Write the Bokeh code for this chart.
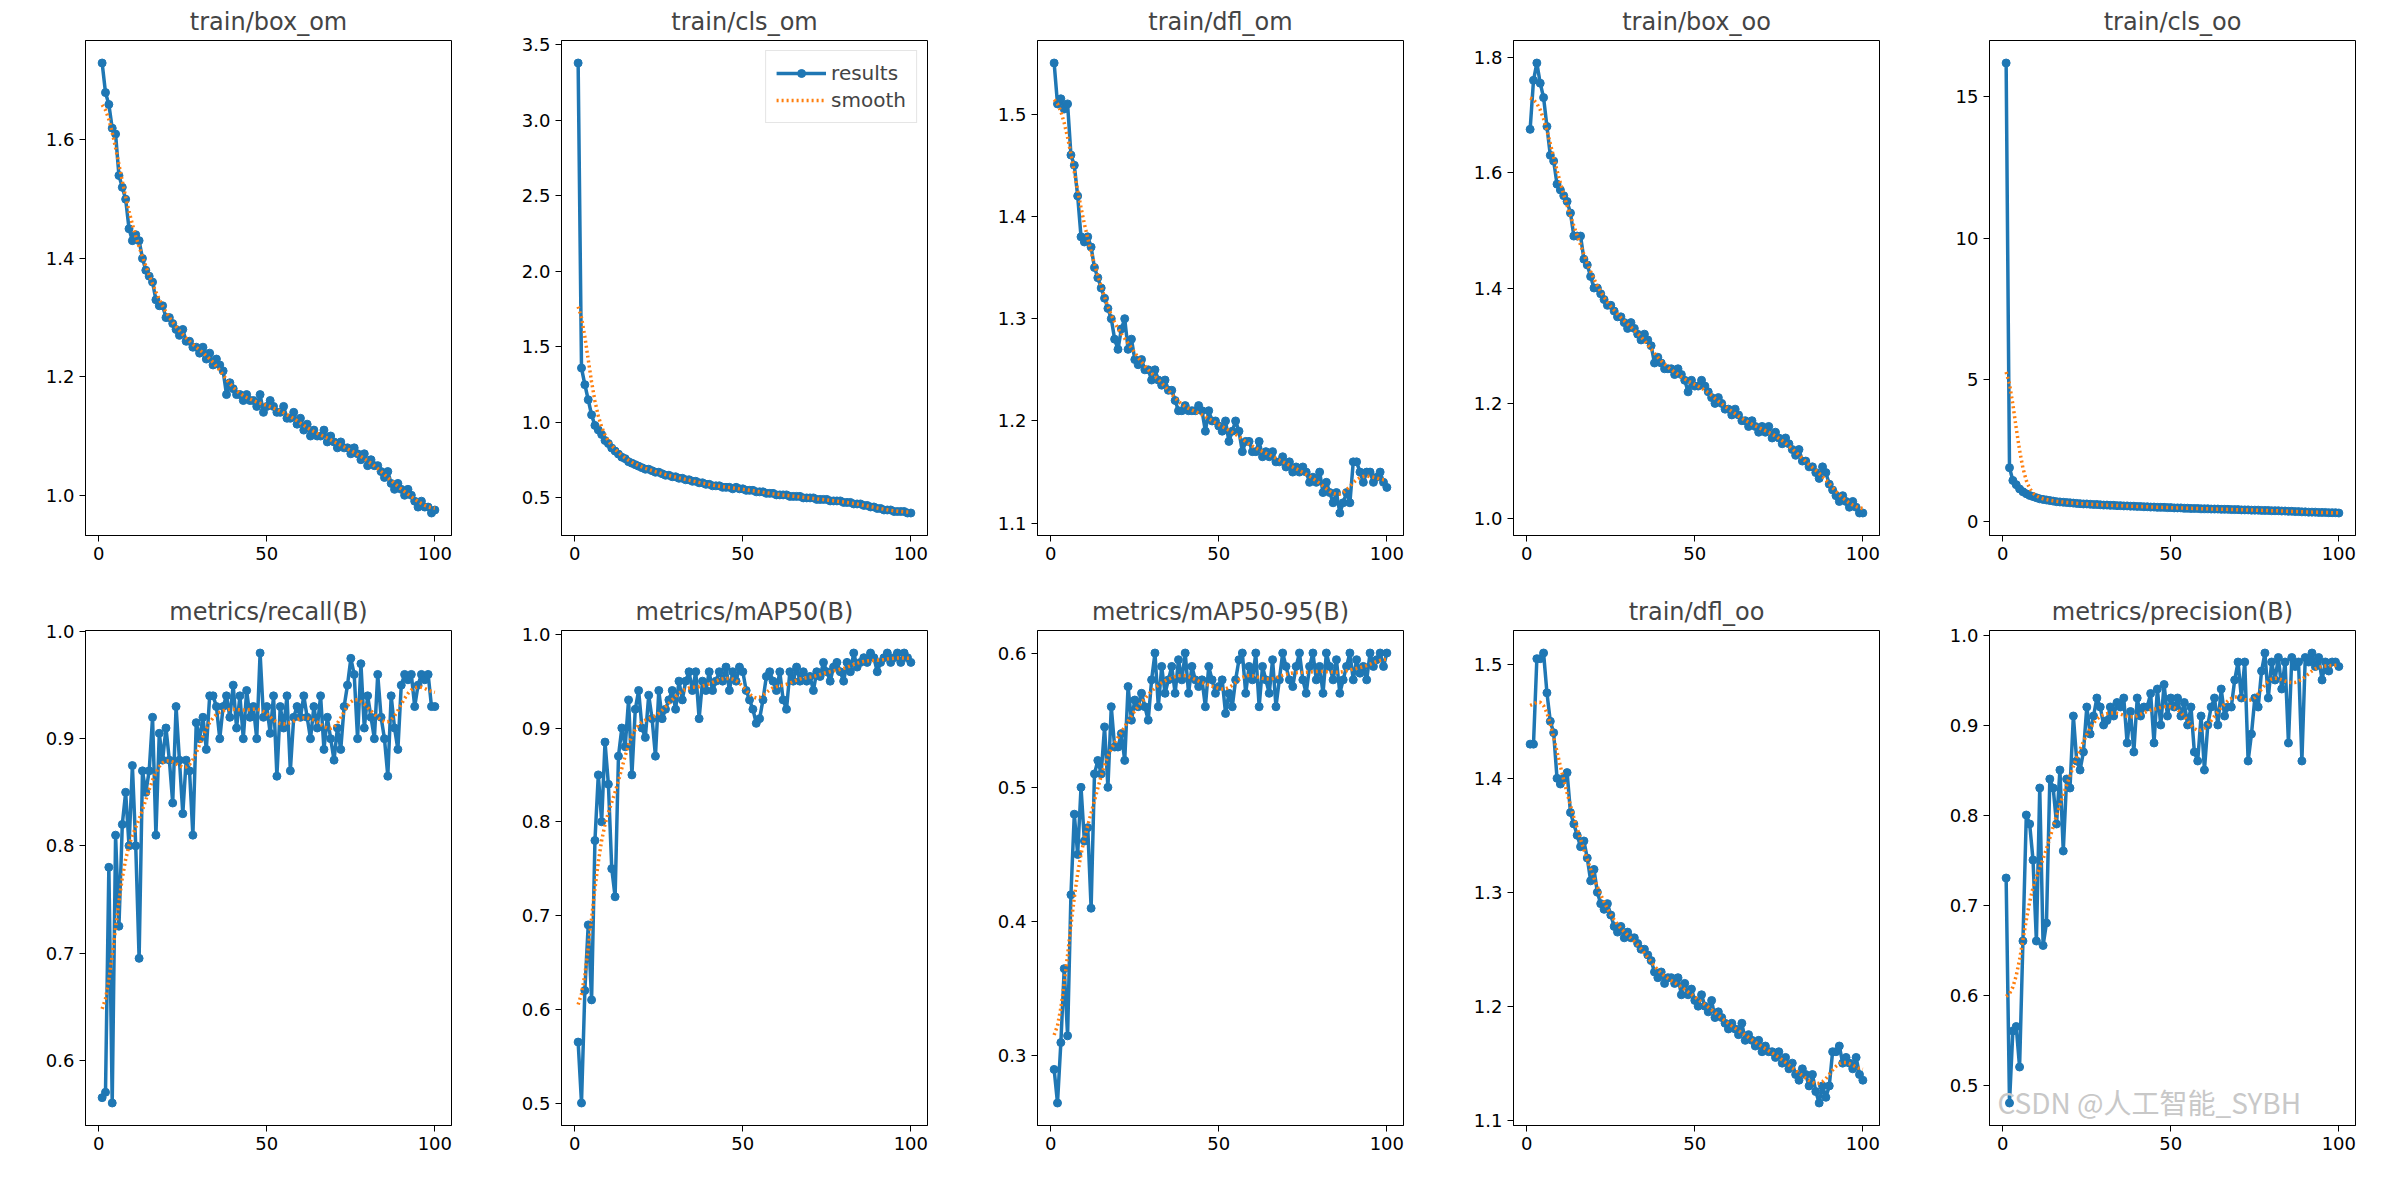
import numpy as np
from bokeh.plotting import figure
from bokeh.layouts import gridplot
from bokeh.models import Range1d, FixedTicker, Legend, LegendItem, Label, PrintfTickFormatter
from bokeh.embed import file_html
from bokeh.resources import INLINE

titles = ["train/box_om", "train/cls_om", "train/dfl_om", "train/box_oo", "train/cls_oo",
          "metrics/recall(B)", "metrics/mAP50(B)", "metrics/mAP50-95(B)", "train/dfl_oo", "metrics/precision(B)"]

box_om = [1.73,1.68,1.66,1.62,1.61,1.54,1.52,1.50,1.45,1.43,1.44,1.43,1.40,1.38,1.37,1.36,1.33,1.32,1.32,1.30,
          1.30,1.29,1.28,1.27,1.28,1.26,1.26,1.25,1.25,1.24,1.25,1.23,1.24,1.22,1.23,1.22,1.21,1.17,1.19,1.18,
          1.17,1.17,1.16,1.17,1.16,1.16,1.15,1.17,1.14,1.15,1.16,1.15,1.14,1.14,1.15,1.13,1.13,1.14,1.12,1.13,
          1.11,1.12,1.10,1.11,1.10,1.10,1.11,1.09,1.10,1.09,1.08,1.09,1.08,1.08,1.07,1.08,1.07,1.06,1.07,1.05,
          1.06,1.05,1.05,1.04,1.03,1.04,1.02,1.01,1.02,1.01,1.00,1.01,1.00,0.99,0.98,0.99,0.98,0.98,0.97,0.975]
cls_om = [3.38,1.36,1.25,1.15,1.05,0.98,0.95,0.92,0.88,0.86,0.83,0.81,0.79,0.77,0.76,0.74,0.73,0.72,0.71,0.70,
          0.69,0.69,0.68,0.67,0.67,0.66,0.65,0.65,0.64,0.64,0.63,0.63,0.62,0.62,0.61,0.61,0.60,0.60,0.59,0.59,
          0.58,0.58,0.58,0.57,0.57,0.57,0.56,0.57,0.56,0.56,0.55,0.55,0.55,0.54,0.54,0.54,0.53,0.53,0.53,0.52,
          0.52,0.52,0.52,0.51,0.51,0.51,0.51,0.50,0.50,0.50,0.50,0.49,0.49,0.49,0.49,0.48,0.48,0.48,0.48,0.47,
          0.47,0.47,0.46,0.46,0.46,0.45,0.45,0.44,0.44,0.43,0.43,0.42,0.42,0.42,0.41,0.41,0.41,0.41,0.40,0.40]
dfl_om = [1.55,1.51,1.515,1.505,1.51,1.46,1.45,1.42,1.38,1.375,1.38,1.37,1.35,1.34,1.33,1.32,1.31,1.30,1.28,1.27,
          1.29,1.30,1.27,1.28,1.26,1.255,1.26,1.25,1.25,1.24,1.25,1.24,1.235,1.24,1.23,1.23,1.22,1.21,1.21,1.215,
          1.21,1.21,1.21,1.215,1.21,1.19,1.21,1.20,1.20,1.195,1.19,1.20,1.18,1.19,1.20,1.19,1.17,1.18,1.18,1.17,
          1.17,1.18,1.165,1.17,1.165,1.17,1.16,1.16,1.165,1.155,1.16,1.15,1.155,1.15,1.155,1.15,1.14,1.145,1.14,1.15,
          1.13,1.14,1.13,1.12,1.13,1.11,1.12,1.13,1.12,1.16,1.16,1.15,1.14,1.15,1.15,1.14,1.145,1.15,1.14,1.135]
box_oo = [1.675,1.76,1.79,1.755,1.73,1.68,1.63,1.62,1.58,1.57,1.56,1.55,1.53,1.49,1.49,1.49,1.45,1.44,1.42,1.40,
          1.40,1.39,1.38,1.37,1.37,1.36,1.35,1.35,1.34,1.33,1.34,1.33,1.32,1.31,1.32,1.31,1.30,1.27,1.28,1.27,
          1.26,1.26,1.26,1.25,1.26,1.25,1.24,1.22,1.24,1.23,1.23,1.24,1.23,1.22,1.21,1.20,1.21,1.20,1.19,1.19,
          1.18,1.19,1.18,1.17,1.17,1.16,1.17,1.16,1.15,1.16,1.15,1.16,1.14,1.15,1.14,1.13,1.14,1.13,1.12,1.11,
          1.12,1.10,1.10,1.09,1.09,1.08,1.07,1.09,1.08,1.06,1.05,1.04,1.03,1.04,1.03,1.02,1.03,1.02,1.01,1.01]
cls_oo = [16.2,1.9,1.45,1.30,1.15,1.05,0.98,0.92,0.88,0.84,0.80,0.78,0.76,0.74,0.72,0.70,0.69,0.68,0.67,0.66,
          0.65,0.64,0.63,0.62,0.62,0.61,0.60,0.60,0.59,0.58,0.58,0.57,0.57,0.56,0.56,0.55,0.55,0.54,0.54,0.53,
          0.53,0.52,0.52,0.51,0.51,0.50,0.50,0.50,0.49,0.49,0.48,0.48,0.48,0.47,0.47,0.46,0.46,0.46,0.45,0.45,
          0.45,0.44,0.44,0.44,0.43,0.43,0.43,0.42,0.42,0.42,0.41,0.41,0.41,0.40,0.40,0.40,0.39,0.39,0.39,0.38,
          0.38,0.38,0.37,0.37,0.36,0.36,0.35,0.35,0.34,0.34,0.33,0.33,0.33,0.32,0.32,0.32,0.31,0.31,0.31,0.30]
recall = [0.565,0.57,0.78,0.56,0.81,0.725,0.82,0.85,0.80,0.875,0.80,0.695,0.87,0.85,0.87,0.92,0.81,0.905,0.88,0.91,
          0.88,0.84,0.93,0.88,0.83,0.88,0.87,0.81,0.915,0.90,0.92,0.89,0.94,0.94,0.93,0.90,0.93,0.94,0.92,0.95,
          0.91,0.94,0.90,0.945,0.92,0.93,0.90,0.98,0.92,0.93,0.905,0.94,0.865,0.93,0.91,0.94,0.87,0.92,0.93,0.92,
          0.94,0.92,0.90,0.93,0.91,0.94,0.89,0.92,0.90,0.88,0.91,0.89,0.93,0.95,0.975,0.96,0.90,0.97,0.91,0.94,
          0.92,0.90,0.96,0.92,0.90,0.865,0.94,0.91,0.89,0.95,0.96,0.955,0.96,0.93,0.95,0.96,0.955,0.96,0.93,0.93]
map50 = [0.565,0.50,0.62,0.69,0.61,0.78,0.85,0.80,0.885,0.84,0.75,0.72,0.87,0.90,0.88,0.93,0.85,0.92,0.94,0.90,
         0.89,0.935,0.91,0.87,0.94,0.91,0.92,0.93,0.94,0.92,0.95,0.93,0.95,0.96,0.94,0.96,0.91,0.95,0.94,0.96,
         0.94,0.95,0.96,0.95,0.965,0.94,0.96,0.95,0.965,0.96,0.94,0.93,0.92,0.905,0.91,0.93,0.955,0.96,0.95,0.94,
         0.96,0.93,0.92,0.96,0.95,0.965,0.95,0.96,0.95,0.955,0.94,0.96,0.955,0.97,0.96,0.95,0.965,0.97,0.96,0.95,
         0.97,0.96,0.98,0.965,0.97,0.975,0.97,0.98,0.975,0.96,0.97,0.975,0.98,0.97,0.975,0.98,0.97,0.98,0.975,0.97]
map5095 = [0.29,0.265,0.31,0.365,0.315,0.42,0.48,0.45,0.50,0.46,0.47,0.41,0.51,0.52,0.51,0.545,0.50,0.56,0.53,0.53,
           0.54,0.52,0.575,0.55,0.565,0.56,0.57,0.56,0.55,0.58,0.60,0.56,0.59,0.57,0.58,0.59,0.57,0.595,0.58,0.60,
           0.57,0.59,0.58,0.575,0.58,0.56,0.59,0.58,0.57,0.575,0.58,0.555,0.57,0.56,0.58,0.595,0.60,0.57,0.59,0.58,
           0.60,0.56,0.59,0.58,0.57,0.595,0.56,0.58,0.60,0.59,0.58,0.575,0.59,0.60,0.58,0.57,0.59,0.60,0.58,0.59,
           0.57,0.60,0.59,0.58,0.595,0.57,0.58,0.59,0.60,0.58,0.595,0.585,0.59,0.58,0.60,0.59,0.595,0.60,0.59,0.60]
dfl_oo = [1.43,1.43,1.505,1.505,1.51,1.475,1.45,1.44,1.40,1.395,1.40,1.405,1.37,1.36,1.35,1.34,1.345,1.33,1.31,1.32,
          1.30,1.29,1.285,1.29,1.28,1.27,1.265,1.27,1.26,1.265,1.26,1.26,1.255,1.25,1.25,1.245,1.24,1.23,1.225,1.23,
          1.22,1.225,1.225,1.22,1.225,1.21,1.22,1.21,1.215,1.205,1.20,1.21,1.20,1.195,1.205,1.19,1.195,1.19,1.185,1.18,
          1.185,1.18,1.175,1.185,1.17,1.175,1.17,1.165,1.17,1.16,1.165,1.16,1.16,1.155,1.16,1.15,1.155,1.145,1.15,1.14,
          1.135,1.145,1.14,1.13,1.14,1.125,1.115,1.13,1.12,1.13,1.16,1.16,1.165,1.15,1.155,1.15,1.145,1.155,1.14,1.135]
precision = [0.73,0.48,0.56,0.565,0.52,0.66,0.80,0.79,0.75,0.66,0.83,0.655,0.68,0.84,0.83,0.79,0.85,0.76,0.84,0.83,
             0.91,0.86,0.85,0.87,0.92,0.89,0.91,0.93,0.92,0.90,0.905,0.92,0.91,0.925,0.92,0.93,0.88,0.915,0.87,0.93,
             0.91,0.92,0.92,0.935,0.88,0.94,0.90,0.945,0.91,0.93,0.92,0.93,0.91,0.925,0.90,0.92,0.87,0.86,0.91,0.85,
             0.90,0.92,0.93,0.90,0.94,0.91,0.92,0.92,0.95,0.97,0.93,0.97,0.86,0.89,0.93,0.92,0.96,0.98,0.93,0.97,
             0.95,0.975,0.94,0.97,0.88,0.975,0.965,0.97,0.86,0.975,0.97,0.98,0.965,0.975,0.95,0.97,0.96,0.97,0.97,0.965]

series = [box_om, cls_om, dfl_om, box_oo, cls_oo, recall, map50, map5095, dfl_oo, precision]
yticks = [[1.0,1.2,1.4,1.6],[0.5,1.0,1.5,2.0,2.5,3.0,3.5],[1.1,1.2,1.3,1.4,1.5],[1.0,1.2,1.4,1.6,1.8],[0,5,10,15],
          [0.6,0.7,0.8,0.9,1.0],[0.5,0.6,0.7,0.8,0.9,1.0],[0.3,0.4,0.5,0.6],[1.1,1.2,1.3,1.4,1.5],[0.5,0.6,0.7,0.8,0.9,1.0]]
yfmt = ["%.1f"] * 4 + ["%d"] + ["%.1f"] * 5

def gauss_smooth(y, sigma=3.0):
    y = np.asarray(y, float)
    r = int(4 * sigma + 0.5)
    k = np.exp(-0.5 * (np.arange(-r, r + 1) / sigma) ** 2)
    k /= k.sum()
    yp = np.pad(y, r, mode="symmetric")
    return np.convolve(yp, k, mode="valid")

BLUE = "#1f77b4"; ORANGE = "#ff7f0e"
figs = []
for i, (t, y) in enumerate(zip(titles, series)):
    x = np.arange(1, len(y) + 1)
    lo, hi = min(y), max(y); pad = (hi - lo) * 0.05
    p = figure(width=476, height=590, output_backend="svg", toolbar_location=None,
               x_range=Range1d(-3.95, 104.95), y_range=Range1d(lo - pad, hi + pad),
               min_border_left=85, min_border_right=25, min_border_top=20, min_border_bottom=55)
    p.title.text = t
    p.title.align = "center"
    p.title.text_font_style = "normal"
    p.title.text_font_size = "24px"
    p.title.text_font = "DejaVu Sans"
    p.xgrid.visible = False; p.ygrid.visible = False
    p.outline_line_color = "black"; p.outline_line_alpha = 1
    for ax in (p.xaxis[0], p.yaxis[0]):
        ax.major_label_text_font = "DejaVu Sans"
        ax.major_label_text_font_size = "18px"
        ax.major_label_text_color = "black"
        ax.minor_tick_line_color = None
        ax.major_tick_out = 6; ax.major_tick_in = 0
        ax.axis_line_color = "black"
    p.xaxis.ticker = FixedTicker(ticks=[0, 50, 100])
    p.yaxis.ticker = FixedTicker(ticks=yticks[i])
    p.yaxis.formatter = PrintfTickFormatter(format=yfmt[i])
    r1 = p.line(x, y, line_color=BLUE, line_width=3.5)
    r2 = p.scatter(x, y, size=8, fill_color=BLUE, line_color=BLUE)
    r3 = p.line(x, gauss_smooth(y), line_color=ORANGE, line_width=3.5, line_dash="2 3")
    if i == 1:
        lg = Legend(items=[LegendItem(label="results", renderers=[r1, r2]),
                           LegendItem(label="smooth", renderers=[r3])],
                    location="top_right", label_text_font="DejaVu Sans", label_text_font_size="20px",
                    border_line_color="#cccccc", glyph_width=50)
        p.add_layout(lg)
    if i == 9:
        p.add_layout(Label(x=8, y=4, x_units="screen", y_units="screen", text="CSDN @人工智能_SYBH",
                           text_align="left", text_font="Noto Sans CJK SC", text_font_size="28px",
                           text_color="#c8c8c8"))
    figs.append(p)

grid = gridplot(figs, ncols=5, toolbar_location=None)
open("out.html", "w").write(file_html(grid, INLINE))
